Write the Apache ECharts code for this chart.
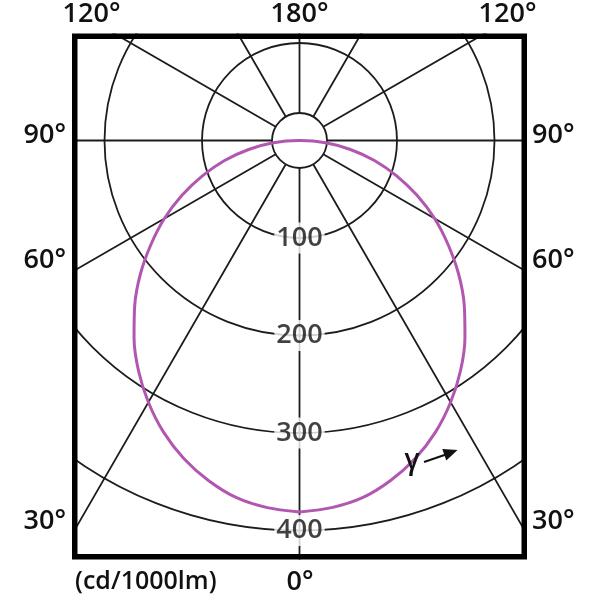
<!DOCTYPE html>
<html>
<head>
<meta charset="utf-8">
<script src="https://cdn.jsdelivr.net/npm/echarts@6/dist/echarts.min.js"></script>
<style>
  html, body { margin: 0; padding: 0; background: #fff; }
  #polar { width: 600px; height: 600px; }
</style>
</head>
<body>
<div id="polar"></div>
<script>
// 配光曲线 (cd/1000lm)，C0-C180 平面对称
var gammas = [0, 5, 10, 15, 20, 25, 30, 35, 40, 45, 50, 55, 60, 65, 70, 75, 80, 85, 90, 180];
var intensity = [381, 378, 372, 361, 347, 330, 310, 288, 264, 239, 213, 186, 160, 133, 106, 80, 53, 27, 1, 0];
var ringTicks = [100, 200, 300, 400];
var unitLabel = '(cd/1000lm)';

var cx = 299.5, cy = 140.5;
var font = '"Open Sans", "Noto Sans", sans-serif';
var gridColor = '#1c1c1c';

// 左半边 0..180，右半边 360-γ
var curve = [];
gammas.forEach(function (g, i) { curve.push([intensity[i], g]); });
for (var i = gammas.length - 2; i >= 0; i--) {
    curve.push([intensity[i], 360 - gammas[i]]);
}

function label(text, x, y, align) {
    return {
        type: 'text', z: 30, x: x, y: y,
        style: {
            text: text, fill: '#111', font: '600 27px ' + font,
            textAlign: align || 'center', textVerticalAlign: 'middle'
        }
    };
}

var myChart = echarts.init(document.getElementById('polar'));
var option = {
    animation: false,
    polar: [
        { center: [cx, cy], radius: 390 },   // 光强圆环
        { center: [cx, cy], radius: 520 }    // 角度射线
    ],
    angleAxis: [{
        polarIndex: 0,
        type: 'value', min: 0, max: 360, startAngle: 270, clockwise: true,
        axisLine: { show: false }, axisTick: { show: false },
        axisLabel: { show: false }, splitLine: { show: false }
    }, {
        polarIndex: 1,
        type: 'value', min: 0, max: 360, interval: 30, startAngle: 270, clockwise: true,
        axisLine: { show: false }, axisTick: { show: false }, axisLabel: { show: false },
        splitLine: { show: true, lineStyle: { color: gridColor, width: 1.8 } }
    }],
    radiusAxis: [{
        polarIndex: 0,
        type: 'value', min: 0, max: 400, interval: 100,
        axisLine: { show: false }, axisTick: { show: false }, axisLabel: { show: false },
        splitLine: { show: true, lineStyle: { color: gridColor, width: 1.8 } }
    }, {
        polarIndex: 1,
        type: 'value', min: 0, max: 1,
        axisLine: { show: false }, axisTick: { show: false },
        axisLabel: { show: false }, splitLine: { show: false }
    }],
    series: [{
        type: 'line',
        coordinateSystem: 'polar',
        polarIndex: 0,
        z: 6,
        data: curve,
        smooth: 0.3,
        showSymbol: false,
        silent: true,
        lineStyle: { color: '#b157b0', width: 3 }
    }, {
        // 圆环数值标签
        type: 'scatter',
        coordinateSystem: 'polar',
        polarIndex: 0,
        z: 7,
        silent: true,
        symbolSize: 1,
        itemStyle: { color: 'rgba(0,0,0,0)' },
        data: ringTicks.map(function (v) { return [v, 0]; }),
        label: {
            show: true,
            position: 'inside',
            formatter: function (p) { return p.value[0]; },
            color: '#111',
            fontSize: 27,
            fontWeight: 600,
            fontFamily: font,
            backgroundColor: '#fff',
            padding: [3, 2, 1, 2]
        }
    }],
    graphic: [
        // 中心小圆
        { type: 'circle', z: 5, shape: { cx: cx, cy: cy, r: 27.5 },
          style: { fill: '#fff', stroke: gridColor, lineWidth: 1.8 } },
        // 边框外遮罩
        { type: 'rect', z: 20, shape: { x: 0, y: 0, width: 600, height: 33.5 }, style: { fill: '#fff' } },
        { type: 'rect', z: 20, shape: { x: 0, y: 559.5, width: 600, height: 41 }, style: { fill: '#fff' } },
        { type: 'rect', z: 20, shape: { x: 0, y: 0, width: 72, height: 600 }, style: { fill: '#fff' } },
        { type: 'rect', z: 20, shape: { x: 527, y: 0, width: 73, height: 600 }, style: { fill: '#fff' } },
        // 边框
        { type: 'rect', z: 21, shape: { x: 74.75, y: 36.25, width: 449.5, height: 520.5 },
          style: { fill: 'none', stroke: '#000', lineWidth: 5.5 } },
        label('120°', 91.5, 14.5),
        label('180°', 299.5, 14.5),
        label('120°', 507.5, 14.5),
        label('90°', 66, 135, 'right'),
        label('90°', 532, 135, 'left'),
        label('60°', 66, 260, 'right'),
        label('60°', 532, 260, 'left'),
        label('30°', 66, 521, 'right'),
        label('30°', 532, 521, 'left'),
        label('0°', 300, 582),
        { type: 'text', z: 30, x: 75, y: 582,
          style: { text: unitLabel, fill: '#111', font: '600 25px ' + font,
                   textAlign: 'left', textVerticalAlign: 'middle' } },
        // γ 方向箭头
        { type: 'text', z: 30, x: 412, y: 461,
          style: { text: 'γ', fill: '#111', font: '600 28px ' + font,
                   textAlign: 'center', textVerticalAlign: 'middle' } },
        { type: 'line', z: 30, shape: { x1: 424, y1: 462, x2: 446, y2: 454.5 },
          style: { stroke: '#111', lineWidth: 2 } },
        { type: 'polygon', z: 30, shape: { points: [[457.5, 450], [442.3, 449], [446.3, 460.4]] },
          style: { fill: '#111' } }
    ]
};
myChart.setOption(option);
</script>
</body>
</html>
